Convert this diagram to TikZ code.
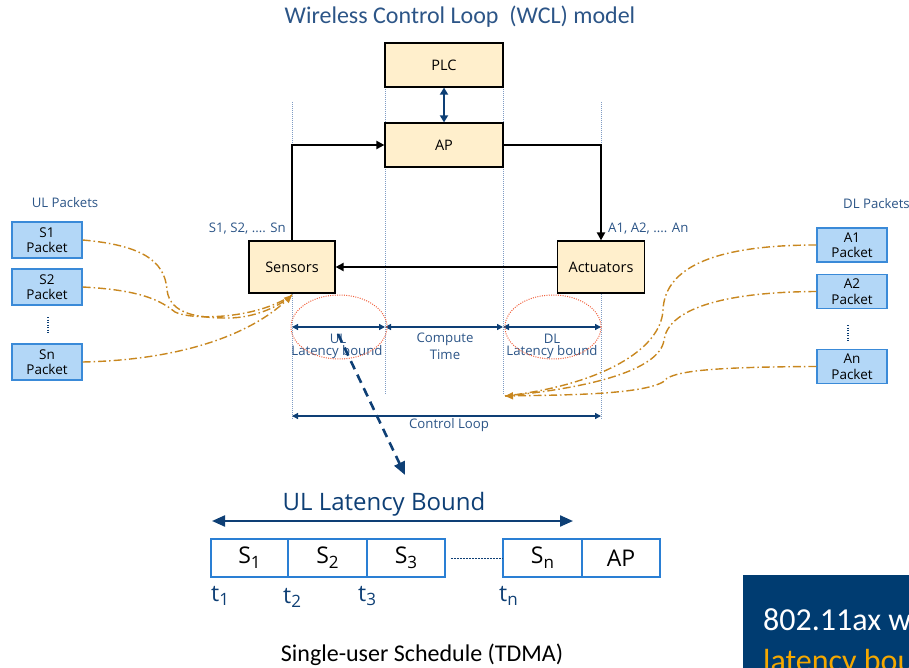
\documentclass[tikz,border=0pt]{standalone}
\usepackage{fontspec}
\setmainfont{Open Sans}
\newfontfamily\carl{Carlito}
\usetikzlibrary{arrows.meta}
\definecolor{lblue}{HTML}{2C5587}
\definecolor{abluedk}{HTML}{0E3F75}
\definecolor{peach}{HTML}{FFEFCC}
\definecolor{pktfill}{HTML}{B3D7F7}
\definecolor{pktdraw}{HTML}{3A8AD8}
\definecolor{orng}{HTML}{C8871F}
\definecolor{redd}{HTML}{F0603C}
\definecolor{navy}{HTML}{003C71}
\definecolor{gold}{HTML}{F5A800}
\definecolor{guide}{HTML}{7F9CC4}
\definecolor{slotdraw}{HTML}{2A7FD4}
\tikzset{
  peachbox/.style={draw=black, line width=1.2pt, fill=peach, inner sep=0pt, font=\fontsize{14.5}{17}\selectfont},
  pkt/.style={draw=pktdraw, line width=1.2pt, fill=pktfill, minimum width=70pt, inner sep=0pt, align=center, font=\fontsize{13.5}{15.5}\selectfont},
  lbl/.style={text=lblue, inner sep=0pt, font=\fontsize{13.2}{15}\selectfont},
  guideline/.style={guide, line width=0.6pt, dash pattern=on 1pt off 1pt},
  thickarrow/.style={black, line width=2.4pt, -{Triangle[length=8pt,width=8pt]}},
  dimarrow/.style={abluedk, line width=1.3pt, {Triangle[length=6pt,width=6pt]}-{Triangle[length=6pt,width=6pt]}},
  dashdot/.style={orng, line width=1.4pt, dash pattern=on 8pt off 3pt on 1.5pt off 3pt, -{Triangle[length=8pt,width=7pt]}},
  dashdotplain/.style={orng, line width=1.4pt, dash pattern=on 8pt off 3pt on 1.5pt off 3pt},
  reddot/.style={redd, line width=1pt, dash pattern=on 1pt off 1.3pt},
  slot/.style={draw=slotdraw, line width=1.8pt, minimum height=38pt, inner sep=0pt, font=\fontsize{23}{26}\selectfont},
  tlab/.style={text=abluedk, inner sep=0pt, anchor=base west, font=\fontsize{23}{26}\selectfont},
}
\newcommand{\lowsub}[1]{\raisebox{-0.4ex}{\fontsize{17}{17}\selectfont #1}}
\begin{document}
\begin{tikzpicture}[x=1pt,y=-1pt]
\useasboundingbox (0,0) rectangle (909,668);

% title
\node[text=lblue, font=\carl\fontsize{24}{27}\selectfont, inner sep=0pt] (title) at (460,17) {Wireless Control Loop\ \ (WCL) model};

% guide lines
\coordinate (g1t) at (292,102); \coordinate (g1b) at (292,420);
\coordinate (g2t) at (385,87);  \coordinate (g2b) at (385,395);
\coordinate (g3t) at (503,87);  \coordinate (g3b) at (503,395);
\coordinate (g4t) at (601,102); \coordinate (g4b) at (601,420);
\draw[guideline] (g1t) -- (g1b);
\draw[guideline] (g2t) -- (g2b);
\draw[guideline] (g3t) -- (g3b);
\draw[guideline] (g4t) -- (g4b);

% main boxes
\node[peachbox, minimum width=118pt, minimum height=44pt] (plc) at (444,65) {PLC};
\node[peachbox, minimum width=118pt, minimum height=44pt] (ap) at (444,145) {AP};
\node[peachbox, minimum width=86pt, minimum height=52pt] (sens) at (292,267) {Sensors};
\node[peachbox, minimum width=87pt, minimum height=52pt] (act) at (601,267) {Actuators};

\draw[abluedk, line width=2.2pt, {Triangle[length=7pt,width=8pt]}-{Triangle[length=7pt,width=8pt]}] (plc.south) -- (ap.north);
\draw[thickarrow] (sens.north) |- (ap.west);
\draw[thickarrow] (ap.east) -| (act.north);
\draw[thickarrow] (act.west) -- (sens.east);

\node[lbl, anchor=east] (slab) at (286,229) {S1, S2, .... Sn};
\node[lbl, anchor=west] (alab) at (608,229) {A1, A2, .... An};

% dimension arrows
\coordinate (d1) at (292,327); \coordinate (d2) at (385,327);
\coordinate (d3) at (503,327); \coordinate (d4) at (601,327);
\draw[dimarrow] (d1) -- (d2);
\draw[dimarrow] (d2) -- (d3);
\draw[dimarrow] (d3) -- (d4);
\coordinate (c1) at (292,416); \coordinate (c2) at (601,416);
\draw[dimarrow] (c1) -- (c2);

\node[lbl] (ul1) at (338,339) {UL};
\node[lbl] (ul2) at (337,352) {Latency bound};
\node[lbl] (ct1) at (445,339) {Compute};
\node[lbl] (ct2) at (445,355) {Time};
\node[lbl] (dl1) at (552,339) {DL};
\node[lbl] (dl2) at (552,352) {Latency bound};
\node[lbl] (cl) at (449,425) {Control Loop};

% red dotted ellipses
\draw[reddot] (339,327) ellipse [x radius=48pt, y radius=32pt];
\draw[reddot] (553,327) ellipse [x radius=48pt, y radius=32pt];

% UL packets
\node[lbl] (ulp) at (65,203) {UL Packets};
\node[pkt, minimum height=36pt] (s1) at (47,240) {S1\\Packet};
\node[pkt, minimum height=36pt] (s2) at (47,287) {S2\\Packet};
\node[pkt, minimum height=36pt] (sn) at (47,362) {Sn\\Packet};
\coordinate (sd1) at (48,317); \coordinate (sd2) at (48,334);
\draw[abluedk, line width=1.5pt, dash pattern=on 1.2pt off 1.3pt] (sd1) -- (sd2);

% DL packets
\node[lbl, anchor=west] (dlp) at (843,204) {DL Packets};
\node[pkt, minimum height=34pt] (a1) at (852,245) {A1\\Packet};
\node[pkt, minimum height=34pt] (a2) at (852,291.5) {A2\\Packet};
\node[pkt, minimum height=34pt] (an) at (852,366.5) {An\\Packet};
\coordinate (ad1) at (848,325); \coordinate (ad2) at (848,342);
\draw[abluedk, line width=1.5pt, dash pattern=on 1.2pt off 1.3pt] (ad1) -- (ad2);

% UL curves
\coordinate (sin) at (292,295);
\draw[dashdotplain] (s1.east) .. controls (140,245) and (165,260) .. (167,290) .. controls (170,315) and (200,318) .. (228,318) .. controls (255,318) and (280,306) .. (sin);
\draw[dashdotplain] (s2.east) .. controls (140,290) and (160,300) .. (175,312) .. controls (190,320) and (255,320) .. (sin);
\draw[dashdot] (sn.east) .. controls (180,360) and (250,335) .. (sin);

% DL curves
\coordinate (dlend) at (505,396);
\draw[dashdotplain] (a1.west) .. controls (720,245) and (665,265) .. (663,310) .. controls (661,350) and (600,385) .. (dlend);
\draw[dashdotplain] (a2.west) .. controls (720,292) and (668,310) .. (664,340) .. controls (660,370) and (590,388) .. (dlend);
\draw[dashdot] (an.west) .. controls (700,367) and (670,372) .. (663,382) .. controls (640,395) and (560,395) .. (dlend);

% dashed arrow to schedule
\coordinate (zs) at (338,334);
\coordinate (ze) at (405,475);
\draw[abluedk, line width=2.6pt, dash pattern=on 9pt off 6pt, -{Triangle[length=13pt,width=11pt]}] (zs) -- (ze);

% schedule
\node[text=abluedk, inner sep=0pt, font=\fontsize{24}{28}\selectfont] (ulb) at (384,504) {UL Latency Bound};
\coordinate (b1) at (212,521); \coordinate (b2) at (573,521);
\draw[abluedk, line width=2.2pt, {Triangle[length=13pt,width=11pt]}-{Triangle[length=13pt,width=11pt]}] (b1) -- (b2);

\node[slot, minimum width=77pt] (k1) at (249.5,558) {S\lowsub{1}};
\node[slot, minimum width=79pt] (k2) at (327.5,558) {S\lowsub{2}};
\node[slot, minimum width=78pt] (k3) at (406,558) {S\lowsub{3}};
\node[slot, minimum width=79pt] (kn) at (542.5,558) {S\lowsub{n}};
\node[slot, minimum width=78pt] (kap) at (621,558) {AP};
\draw[abluedk, line width=0.8pt, dash pattern=on 2pt off 1pt] (k3.east) ++(5,0) coordinate (q1) -- (kn.west) ++(-8,0) coordinate (q2);

\node[tlab] (t1) at (211,601) {t\lowsub{1}};
\node[tlab] (t2) at (283,603) {t\lowsub{2}};
\node[tlab] (t3) at (358,601) {t\lowsub{3}};
\node[tlab] (tn) at (499,601) {t\lowsub{n}};

\node[font=\carl\fontsize{24}{28}\selectfont, inner sep=0pt] (sus) at (422,655) {Single-user Schedule (TDMA)};

% bottom right panel
\fill[navy] (743,575) rectangle (915,675);
\node[text=white, anchor=base west, inner sep=0pt, font=\carl\fontsize{32}{36}\selectfont] (p1) at (763,630) {802.11ax w};
\node[text=gold, anchor=base west, inner sep=0pt, font=\carl\fontsize{32}{36}\selectfont] (p2) at (763,671) {latency bou};
\end{tikzpicture}
\end{document}
